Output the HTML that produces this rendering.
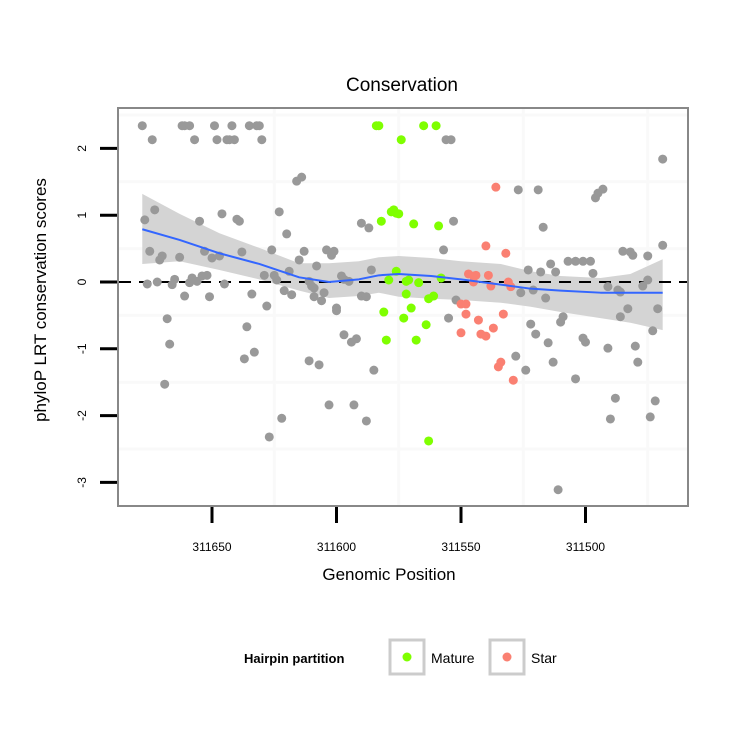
<!DOCTYPE html>
<html><head><meta charset="utf-8"><style>
html,body{margin:0;padding:0;background:#fff;}
svg{display:block;font-family:"Liberation Sans",sans-serif;}
</style></head><body>
<svg id="chart" width="750" height="750" viewBox="0 0 750 750">
<rect x="0" y="0" width="750" height="750" fill="#fff"/>
<text x="402" y="91" text-anchor="middle" font-size="19">Conservation</text>
<g id="grid"></g>
<g id="ribbon"></g>
<g id="pts"></g>
<g id="fit"></g>
<rect x="118" y="108" width="570" height="398" fill="none" stroke="#888" stroke-width="2"/>
<g id="axes"></g>
<text x="389" y="580" text-anchor="middle" font-size="17">Genomic Position</text>
<text transform="translate(46,300) rotate(-90)" text-anchor="middle" font-size="17">phyloP LRT conservation scores</text>
<g>
<text x="244" y="663" font-size="13" font-weight="bold">Hairpin partition</text>
<g>
<rect x="390" y="640" width="34" height="34" fill="#fff" stroke="#ccc" stroke-width="3"/>
<circle cx="407" cy="657" r="4.5" fill="#7fff00"/>
<text x="431" y="663" font-size="14">Mature</text>
</g>
<g>
<rect x="490" y="640" width="34" height="34" fill="#fff" stroke="#ccc" stroke-width="3"/>
<circle cx="507" cy="657" r="4.5" fill="#fa8072"/>
<text x="531" y="663" font-size="14">Star</text>
</g>
</g>
</svg>
<script>
const xTicks = [311650, 311600, 311550, 311500];
const yTicks = [2, 1, 0, -1, -2, -3];
const grayPos = [311678,311662,311661,311659,311649,311642,311635,311632,311631,311674,311657,311648,311644,311643,311641,311630,311556,311554,311469,311616,311614,311673,311677,311655,311646,311640,311639,311623,311620,311590,311587,311675,311670,311671,311663,311653,311650,311647,311638,311626,311613,311615,311608,311604,311601,311602,311586,311676,311672,311665,311666,311659,311654,311652,311658,311656,311645,311629,311625,311624,311619,311611,311610,311621,311618,311609,311605,311609,311606,311598,311597,311595,311590,311588,311661,311651,311634,311628,311600,311668,311667,311669,311636,311633,311637,311600,311597,311592,311594,311611,311607,311585,311603,311593,311622,311588,311627,311527,311519,311493,311495,311496,311517,311553,311557,311514,311507,311504,311501,311498,311523,311518,311512,311497,311485,311482,311481,311475,311469,311491,311487,311486,311477,311475,311526,311521,311516,311552,311555,311483,311471,311486,311522,311509,311510,311520,311515,311501,311500,311491,311480,311473,311528,311513,311479,311524,311504,311488,311472,311490,311474,311511];
const grayScore = [2.34,2.34,2.34,2.34,2.34,2.34,2.34,2.34,2.34,2.13,2.13,2.13,2.13,2.13,2.13,2.13,2.13,2.13,1.84,1.51,1.57,1.08,0.93,0.91,1.02,0.94,0.91,1.05,0.72,0.88,0.81,0.46,0.39,0.33,0.37,0.46,0.36,0.39,0.45,0.48,0.46,0.33,0.24,0.48,0.46,0.40,0.18,-0.03,0,0.04,-0.04,-0.01,0.09,0.10,0.06,0.01,-0.03,0.10,0.10,0.03,0.16,0.01,-0.06,-0.13,-0.19,-0.09,-0.16,-0.22,-0.28,0.09,0.04,0.01,-0.21,-0.22,-0.21,-0.22,-0.18,-0.36,-0.39,-0.55,-0.93,-1.53,-0.67,-1.05,-1.15,-0.43,-0.79,-0.85,-0.90,-1.18,-1.24,-1.32,-1.84,-1.84,-2.04,-2.08,-2.32,1.38,1.38,1.39,1.33,1.26,0.82,0.91,0.48,0.27,0.31,0.31,0.31,0.31,0.18,0.15,0.15,0.13,0.46,0.45,0.40,0.39,0.55,-0.07,-0.12,-0.15,-0.06,0.03,-0.16,-0.12,-0.24,-0.27,-0.54,-0.40,-0.40,-0.52,-0.63,-0.52,-0.60,-0.78,-0.91,-0.84,-0.90,-0.99,-0.96,-0.73,-1.11,-1.20,-1.20,-1.32,-1.45,-1.74,-1.78,-2.05,-2.02,-3.11];
const maturePos = [311584,311583,311565,311560,311574,311577,311578,311576,311575,311582,311569,311559,311576,311579,311572,311571,311567,311558,311572,311561,311563,311570,311573,311564,311568,311563,311581,311580];
const matureScore = [2.34,2.34,2.34,2.34,2.13,1.08,1.05,1.03,1.02,0.91,0.87,0.84,0.16,0.03,0.01,0.03,-0.01,0.06,-0.18,-0.21,-0.25,-0.39,-0.54,-0.64,-0.87,-2.38,-0.45,-0.87];
const starPos = [311536,311540,311532,311547,311545,311544,311545,311539,311538,311531,311530,311550,311548,311548,311543,311533,311537,311550,311542,311540,311534,311535,311529];
const starScore = [1.42,0.54,0.43,0.12,0.09,0.10,0,0.10,-0.06,0,-0.07,-0.33,-0.33,-0.48,-0.57,-0.48,-0.69,-0.76,-0.78,-0.81,-1.20,-1.27,-1.47];
const smoothPos = [311678,311663,311647,311631,311615,311603,311591,311583,311575,311562,311550,311534,311522,311510,311494,311482,311469];
const smoothFit = [0.79,0.63,0.43,0.27,0.07,0,0.04,0.10,0.12,0.09,0.04,-0.04,-0.10,-0.13,-0.16,-0.16,-0.16];
const smoothUpper = [1.32,1.02,0.73,0.51,0.28,0.28,0.31,0.37,0.39,0.36,0.31,0.27,0.16,0.09,0.06,0.12,0.34];
const smoothLower = [0.27,0.31,0.18,0.04,-0.13,-0.24,-0.21,-0.16,-0.22,-0.25,-0.27,-0.31,-0.37,-0.45,-0.54,-0.61,-0.72];

const NS = 'http://www.w3.org/2000/svg';
function xs(v){ return 212 + (311650 - v) * 2.49; }
function ys(v){ return 282 - v * 66.8; }
function mk(tag, attrs, parent){
  const e = document.createElementNS(NS, tag);
  for (const k in attrs) e.setAttribute(k, attrs[k]);
  parent.appendChild(e);
  return e;
}
const grid = document.getElementById('grid');
for (let i = 0; i < xTicks.length; i++) {
  const gx = (xs(xTicks[i]) + xs(xTicks[i] - 50)) / 2;
  const l = mk('line', {x1: gx, x2: gx, y1: 109, y2: 505, stroke: '#f9f9f9', 'stroke-width': 3}, grid);
  
  
}
for (let i = 0; i < yTicks.length; i++) {
  const gy = ys(yTicks[i] + 0.5);
  if (gy < 110) continue;
  const l = mk('line', {x1: 119, x2: 687, y1: gy, y2: gy, stroke: '#f9f9f9', 'stroke-width': 3}, grid);
  
  
}
const rib = document.getElementById('ribbon');
let d = '';
for (let i = 0; i < smoothPos.length; i++) d += (i ? 'L' : 'M') + xs(smoothPos[i]) + ',' + ys(smoothUpper[i]);
for (let i = smoothPos.length - 1; i >= 0; i--) d += 'L' + xs(smoothPos[i]) + ',' + ys(smoothLower[i]);
const rp = mk('path', {d: d + 'Z', fill: '#d4d4d4'}, rib);


const zl = mk('line', {x1: 119, x2: 687, y1: ys(0), y2: ys(0), stroke: '#000', 'stroke-width': 2, 'stroke-dasharray': '12,8'}, rib);


const pts = document.getElementById('pts');
function drawSeries(px, py, color, name){
  for (let i = 0; i < px.length; i++) {
    const c = mk('circle', {cx: xs(px[i]), cy: ys(py[i]), r: 4.5, fill: color}, pts);
    
    
  }
}
drawSeries(grayPos, grayScore, '#999999', 'point-other');
drawSeries(maturePos, matureScore, '#7fff00', 'point-mature');
drawSeries(starPos, starScore, '#fa8072', 'point-star');
const fitG = document.getElementById('fit');
let fd = '';
for (let i = 0; i < smoothPos.length; i++) fd += (i ? 'L' : 'M') + xs(smoothPos[i]) + ',' + ys(smoothFit[i]);
const fl = mk('path', {d: fd, fill: 'none', stroke: '#3366ff', 'stroke-width': 2, 'stroke-linejoin': 'round'}, fitG);


const ax = document.getElementById('axes');
for (let i = 0; i < xTicks.length; i++) {
  const x = xs(xTicks[i]);
  const t = mk('line', {x1: x, x2: x, y1: 507, y2: 523, stroke: '#000', 'stroke-width': 3}, ax);
  
  
  const lb = mk('text', {x: x, y: 551, 'text-anchor': 'middle', 'font-size': 12}, ax);
  lb.textContent = xTicks[i];
  
  
}
for (let i = 0; i < yTicks.length; i++) {
  const y = ys(yTicks[i]);
  const t = mk('line', {x1: 100, x2: 117, y1: y, y2: y, stroke: '#000', 'stroke-width': 3}, ax);
  
  
  const lb = mk('text', {transform: 'translate(86,' + y + ') rotate(-90)', 'text-anchor': 'middle', 'font-size': 12}, ax);
  lb.textContent = yTicks[i];
  
  
}
</script>
</body></html>
